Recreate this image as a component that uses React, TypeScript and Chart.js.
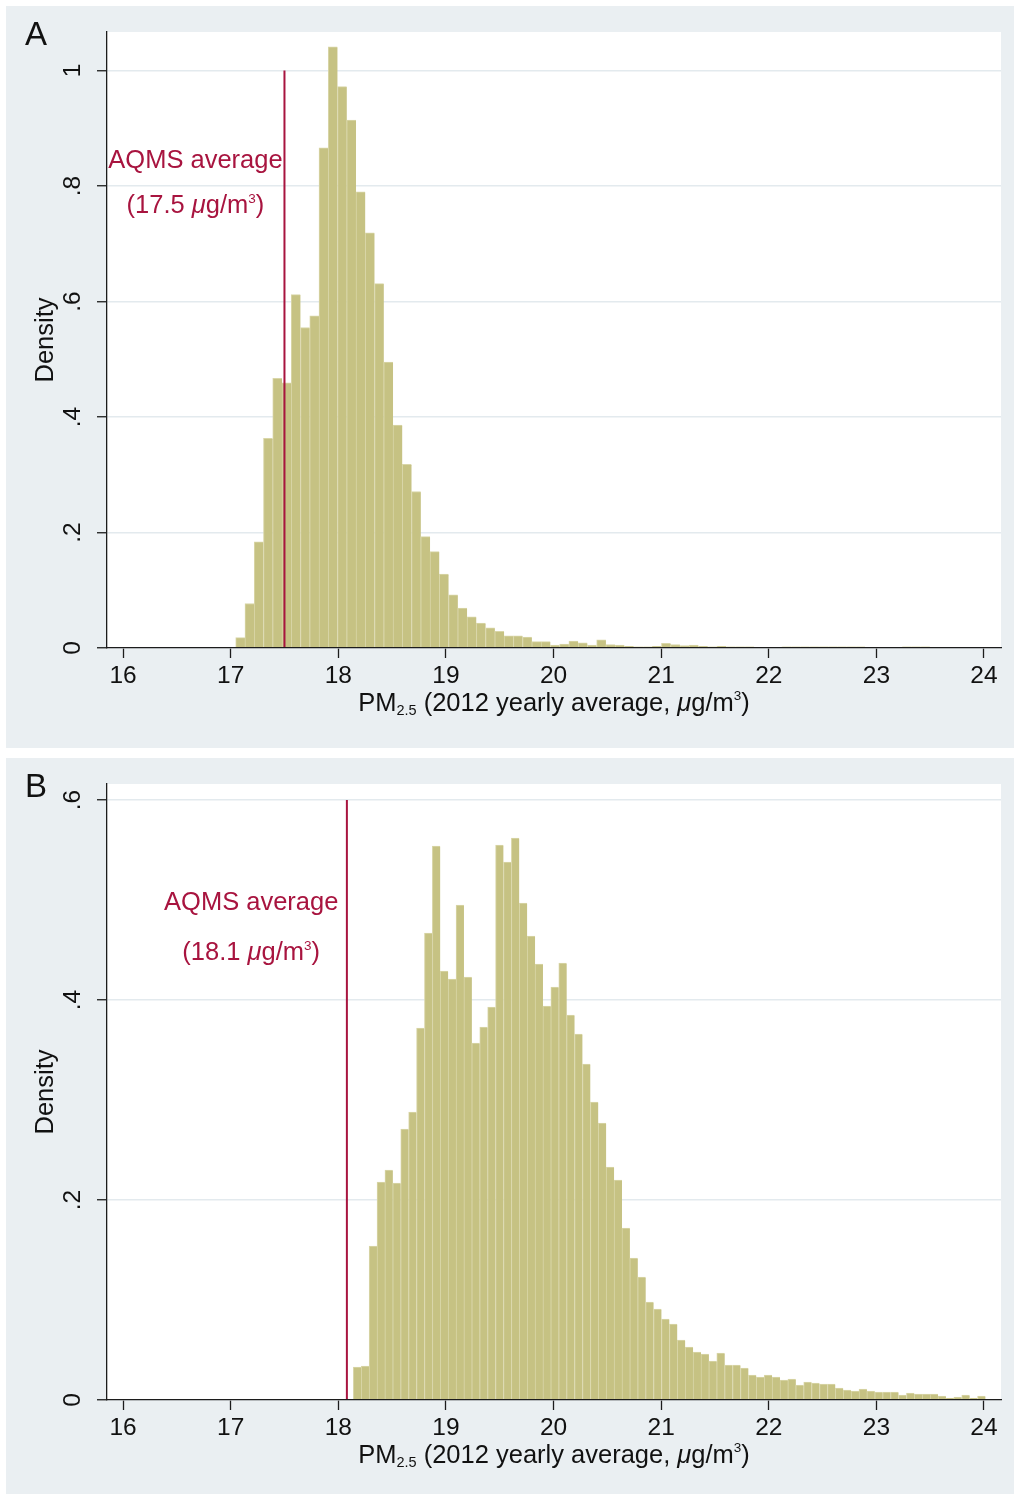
import React, { useEffect, useRef } from 'react';
import { Chart, registerables } from 'chart.js';

Chart.register(...registerables);

const FONT = '"Liberation Sans", Arial, Helvetica, sans-serif';

// ---------- data ----------
const xTicks = [16, 17, 18, 19, 20, 21, 22, 23, 24];
const xMin = 15.851;
const xMax = 24.158;

const yTicksA = [0, 0.2, 0.4, 0.6, 0.8, 1];
const yTickLabelsA = ['0', '.2', '.4', '.6', '.8', '1'];
const yTicksB = [0, 0.2, 0.4, 0.6];
const yTickLabelsB = ['0', '.2', '.4', '.6'];

// Panel A histogram: 80 bins
const binStartA = 17.047;
const binWidthA = 0.086;
const densityA = [
  0.018, 0.077, 0.184, 0.363, 0.467, 0.459, 0.612, 0.555, 0.575, 0.866,
  1.041, 0.972, 0.914, 0.790, 0.719, 0.631, 0.495, 0.386, 0.318, 0.271,
  0.193, 0.167, 0.128, 0.092, 0.069, 0.054, 0.043, 0.035, 0.029, 0.021,
  0.021, 0.019, 0.011, 0.011, 0.005, 0.007, 0.012, 0.009, 0.005, 0.014,
  0.006, 0.005, 0.003, 0.002, 0.002, 0.003, 0.008, 0.006, 0.004, 0.005,
  0.003, 0.002, 0.003, 0.002, 0.002, 0.002, 0.001, 0.001, 0.001, 0.002,
  0.002, 0.002, 0.002, 0.002, 0.002, 0.002, 0.002, 0.002, 0.001, 0.001,
  0.001, 0.001, 0.002, 0.002, 0.002, 0.001, 0.001, 0.001, 0.001, 0.001,
];

// Panel B histogram: 80 bins
const binStartB = 18.14;
const binWidthB = 0.07342;
const densityB = [
  0.033, 0.034, 0.154, 0.218, 0.230, 0.217, 0.271, 0.288, 0.372, 0.467,
  0.554, 0.429, 0.421, 0.495, 0.423, 0.357, 0.373, 0.393, 0.555, 0.538,
  0.562, 0.497, 0.464, 0.436, 0.394, 0.413, 0.437, 0.385, 0.366, 0.336,
  0.298, 0.277, 0.233, 0.220, 0.172, 0.142, 0.123, 0.098, 0.091, 0.081,
  0.076, 0.060, 0.053, 0.048, 0.046, 0.039, 0.047, 0.035, 0.035, 0.032,
  0.025, 0.023, 0.025, 0.023, 0.020, 0.021, 0.015, 0.018, 0.017, 0.016,
  0.016, 0.012, 0.010, 0.009, 0.011, 0.009, 0.008, 0.008, 0.008, 0.005,
  0.007, 0.006, 0.006, 0.006, 0.004, 0.002, 0.003, 0.005, 0.002, 0.004,
];

const aqmsA = 17.5;
const aqmsLabelA = '17.5';
const aqmsB = 18.08;
const aqmsLabelB = '18.1';

// ---------- styles ----------
const PANEL_BG = '#EAEFF2';
const BAR = '#C6C283';
const BAR_EDGE = '#D9D6A8';
const RED = '#A8143F';
const GRID = '#E3EAEE';
const AXIS = '#1c1c1c';

type Seg = { t: string; size: number; italic?: boolean; dy?: number };

function drawRich(ctx: CanvasRenderingContext2D, segs: Seg[], cx: number, baseline: number, color: string) {
  const fontOf = (s: Seg) => `${s.italic ? 'italic ' : ''}${s.size}px ${FONT}`;
  let total = 0;
  const widths: number[] = [];
  for (const s of segs) {
    ctx.font = fontOf(s);
    const w = ctx.measureText(s.t).width;
    widths.push(w);
    total += w;
  }
  let x = cx - total / 2;
  ctx.fillStyle = color;
  ctx.textAlign = 'left';
  ctx.textBaseline = 'alphabetic';
  segs.forEach((s, i) => {
    ctx.font = fontOf(s);
    ctx.fillText(s.t, x, baseline + (s.dy || 0));
    x += widths[i];
  });
}

type PanelCfg = {
  letter: string;
  width: number;
  height: number;
  binStart: number;
  binWidth: number;
  density: number[];
  yMax: number;
  yTicks: number[];
  yLabels: string[];
  lineX: number;
  lineTop: number;
  aqmsLabel: string;
  textX: number;
  textY1: number;
  textY2: number;
};

function makePlugin(cfg: PanelCfg) {
  return {
    id: 'panelDecor' + cfg.letter,
    beforeDraw(chart: any) {
      const { ctx, chartArea: a } = chart;
      ctx.save();
      ctx.fillStyle = PANEL_BG;
      ctx.fillRect(0, 0, chart.width, chart.height);
      ctx.fillStyle = '#ffffff';
      ctx.fillRect(a.left, a.top, a.right - a.left, a.bottom - a.top);
      ctx.restore();
    },
    afterDatasetsDraw(chart: any) {
      const { ctx } = chart;
      const xs = chart.scales.x;
      const ys = chart.scales.y;
      const px = xs.getPixelForValue(cfg.lineX);
      ctx.save();
      ctx.strokeStyle = RED;
      ctx.lineWidth = 2;
      ctx.beginPath();
      ctx.moveTo(px, ys.getPixelForValue(0));
      ctx.lineTo(px, ys.getPixelForValue(cfg.lineTop));
      ctx.stroke();
      ctx.restore();
    },
    afterDraw(chart: any) {
      const { ctx, chartArea: a } = chart;
      const xs = chart.scales.x;
      const ys = chart.scales.y;
      ctx.save();
      // x tick labels
      ctx.fillStyle = '#111';
      ctx.font = `24.5px ${FONT}`;
      ctx.textAlign = 'center';
      ctx.textBaseline = 'alphabetic';
      xTicks.forEach((v) => {
        ctx.fillText(String(v), xs.getPixelForValue(v), a.bottom + 35);
      });
      // y tick labels (rotated)
      cfg.yTicks.forEach((v, i) => {
        ctx.save();
        ctx.translate(a.left - 27, ys.getPixelForValue(v));
        ctx.rotate(-Math.PI / 2);
        ctx.textAlign = 'center';
        ctx.fillText(cfg.yLabels[i], 0, 0);
        ctx.restore();
      });
      // y title
      ctx.save();
      ctx.translate(a.left - 54, (a.top + a.bottom) / 2);
      ctx.rotate(-Math.PI / 2);
      ctx.font = `25.5px ${FONT}`;
      ctx.textAlign = 'center';
      ctx.fillText('Density', 0, 0);
      ctx.restore();
      // x title
      drawRich(
        ctx,
        [
          { t: 'PM', size: 25.5 },
          { t: '2.5', size: 14.5, dy: 4 },
          { t: ' (2012 yearly average, ', size: 25.5 },
          { t: 'μ', size: 25.5, italic: true },
          { t: 'g/m', size: 25.5 },
          { t: '3', size: 13.5, dy: -11 },
          { t: ')', size: 25.5 },
        ],
        (a.left + a.right) / 2,
        a.bottom + 63,
        '#111'
      );
      // panel letter
      ctx.fillStyle = '#111';
      ctx.font = `33px ${FONT}`;
      ctx.textAlign = 'left';
      ctx.fillText(cfg.letter, 19, 39);
      // annotation
      const tx = xs.getPixelForValue(cfg.textX);
      ctx.fillStyle = RED;
      ctx.font = `25.5px ${FONT}`;
      ctx.textAlign = 'center';
      ctx.fillText('AQMS average', tx, ys.getPixelForValue(cfg.textY1));
      drawRich(
        ctx,
        [
          { t: '(' + cfg.aqmsLabel + ' ', size: 25.5 },
          { t: 'μ', size: 25.5, italic: true },
          { t: 'g/m', size: 25.5 },
          { t: '3', size: 13.5, dy: -10 },
          { t: ')', size: 25.5 },
        ],
        tx,
        ys.getPixelForValue(cfg.textY2),
        RED
      );
      ctx.restore();
    },
  };
}

function Panel({ cfg, left, top }: { cfg: PanelCfg; left: number; top: number }) {
  const ref = useRef<HTMLCanvasElement | null>(null);
  useEffect(() => {
    if (!ref.current) return;
    const points = cfg.density.map((d, i) => ({ x: cfg.binStart + (i + 0.5) * cfg.binWidth, y: d }));
    const chart = new Chart(ref.current, {
      type: 'bar',
      data: {
        datasets: [
          {
            data: points as any,
            backgroundColor: BAR,
            borderColor: BAR_EDGE,
            borderWidth: { left: 1, top: 1, right: 0, bottom: 0 } as any,
            borderSkipped: 'start',
            barPercentage: 1,
            categoryPercentage: 1,
          },
        ],
      },
      options: {
        responsive: false,
        maintainAspectRatio: false,
        animation: false,
        devicePixelRatio: 1,
        events: [],
        layout: { padding: { left: 0, top: 26, right: 13, bottom: 0 } },
        plugins: { legend: { display: false }, tooltip: { enabled: false } },
        scales: {
          x: {
            type: 'linear',
            min: xMin,
            max: xMax,
            offset: false,
            afterBuildTicks: (s: any) => {
              s.ticks = xTicks.map((v) => ({ value: v }));
            },
            afterFit: (s: any) => {
              s.height = cfg.height - 642;
            },
            ticks: { display: false },
            grid: {
              offset: false,
              drawOnChartArea: false,
              drawTicks: true,
              tickLength: 10,
              tickColor: AXIS,
              tickWidth: 1.3,
            },
            border: { display: true, color: AXIS, width: 1.3, z: 1 },
          },
          y: {
            type: 'linear',
            min: 0,
            max: cfg.yMax,
            afterBuildTicks: (s: any) => {
              s.ticks = cfg.yTicks.map((v) => ({ value: v }));
            },
            afterFit: (s: any) => {
              s.width = 101;
            },
            ticks: { display: false },
            grid: {
              color: GRID,
              lineWidth: 1.5,
              drawTicks: true,
              tickLength: 10,
              tickColor: AXIS,
              tickWidth: 1.3,
            },
            border: { display: true, color: AXIS, width: 1.3, z: 1 },
          },
        },
      } as any,
      plugins: [makePlugin(cfg)],
    });
    return () => chart.destroy();
  }, [cfg]);
  return (
    <div style={{ position: 'absolute', left, top, width: cfg.width, height: cfg.height }}>
      <canvas ref={ref} width={cfg.width} height={cfg.height} style={{ display: 'block' }} />
    </div>
  );
}

const cfgA: PanelCfg = {
  letter: 'A',
  width: 1008,
  height: 742,
  binStart: binStartA,
  binWidth: binWidthA,
  density: densityA,
  yMax: 1.0667,
  yTicks: yTicksA,
  yLabels: yTickLabelsA,
  lineX: aqmsA,
  lineTop: 1,
  aqmsLabel: aqmsLabelA,
  textX: 16.673,
  textY1: 0.8307,
  textY2: 0.7527,
};

const cfgB: PanelCfg = {
  letter: 'B',
  width: 1008,
  height: 736,
  binStart: binStartB,
  binWidth: binWidthB,
  density: densityB,
  yMax: 0.616,
  yTicks: yTicksB,
  yLabels: yTickLabelsB,
  lineX: aqmsB,
  lineTop: 0.6,
  aqmsLabel: aqmsLabelB,
  textX: 17.191,
  textY1: 0.49,
  textY2: 0.44,
};

export default function App() {
  return (
    <div style={{ position: 'absolute', left: 0, top: 0, width: 1014, height: 1495, background: '#ffffff' }}>
      <Panel cfg={cfgA} left={6} top={6} />
      <Panel cfg={cfgB} left={6} top={758} />
    </div>
  );
}
